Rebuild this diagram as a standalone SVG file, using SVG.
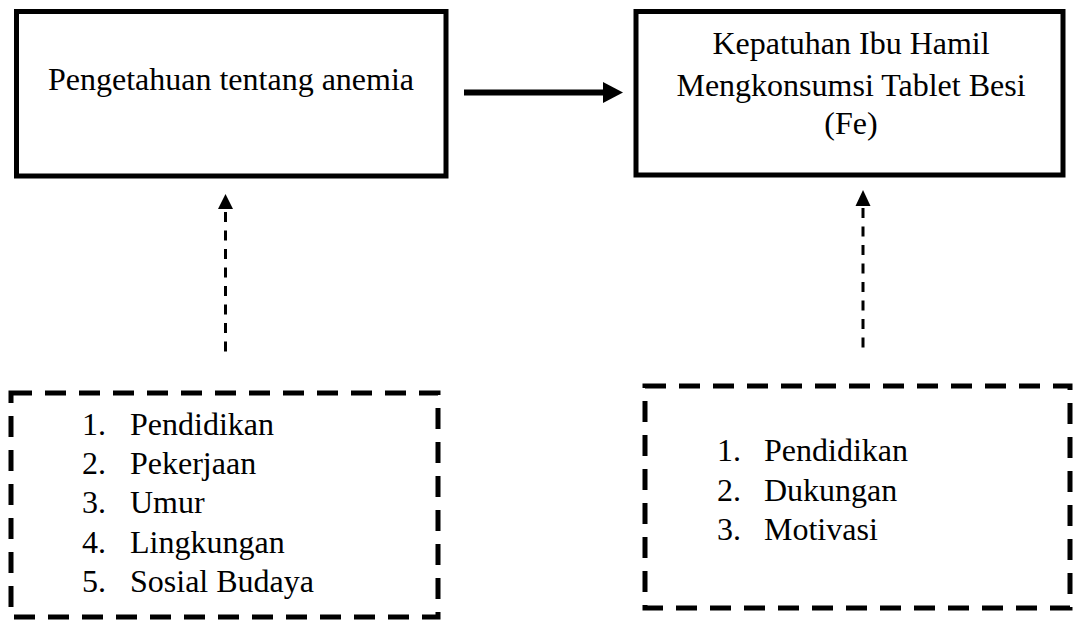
<svg xmlns="http://www.w3.org/2000/svg" width="1074" height="621" viewBox="0 0 1074 621">
<style>
text{font-family:"Liberation Serif","Times New Roman",serif;font-size:32px;fill:#000}
.solid{fill:none;stroke:#000;stroke-width:5}
.dbox{fill:none;stroke:#000;stroke-width:5;stroke-dasharray:21 13}
.dline{stroke:#000;stroke-width:3;stroke-dasharray:10 8.5;fill:none}
</style>
<rect width="1074" height="621" fill="#fff"/>
<g id="node-pengetahuan">
<rect class="solid" x="16.5" y="11.5" width="429.5" height="164.5"/>
<text x="231" y="90" text-anchor="middle">Pengetahuan tentang anemia</text>
</g>
<g id="node-kepatuhan">
<rect class="solid" x="636" y="11.5" width="427" height="163.5"/>
<text x="851" y="54" text-anchor="middle">Kepatuhan Ibu Hamil</text>
<text x="851" y="96" text-anchor="middle">Mengkonsumsi Tablet Besi</text>
<text x="851" y="134" text-anchor="middle">(Fe)</text>
</g>
<g id="node-faktor-kiri">
<rect class="dbox" x="11" y="393" width="427" height="224"/>
<text x="82" y="435">1.</text><text x="130" y="435">Pendidikan</text>
<text x="82" y="474">2.</text><text x="130" y="474">Pekerjaan</text>
<text x="82" y="513">3.</text><text x="130" y="513">Umur</text>
<text x="82" y="553">4.</text><text x="130" y="553">Lingkungan</text>
<text x="82" y="592">5.</text><text x="130" y="592">Sosial Budaya</text>
</g>
<g id="node-faktor-kanan">
<rect class="dbox" x="645" y="386" width="425" height="222"/>
<text x="717" y="461">1.</text><text x="764" y="461">Pendidikan</text>
<text x="717" y="501">2.</text><text x="764" y="501">Dukungan</text>
<text x="717" y="540">3.</text><text x="764" y="540">Motivasi</text>
</g>
<g id="connectors">
<line x1="464" y1="92.5" x2="605" y2="92.5" stroke="#000" stroke-width="6"/>
<polygon points="603,82 623,92.5 603,103" fill="#000"/>
<line class="dline" x1="225.5" y1="212" x2="225.5" y2="354"/>
<polygon points="218,209 225.5,194 233,209" fill="#000"/>
<line class="dline" x1="863" y1="208" x2="863" y2="350"/>
<polygon points="855.5,206 863,190 870.5,206" fill="#000"/>
</g>
</svg>
